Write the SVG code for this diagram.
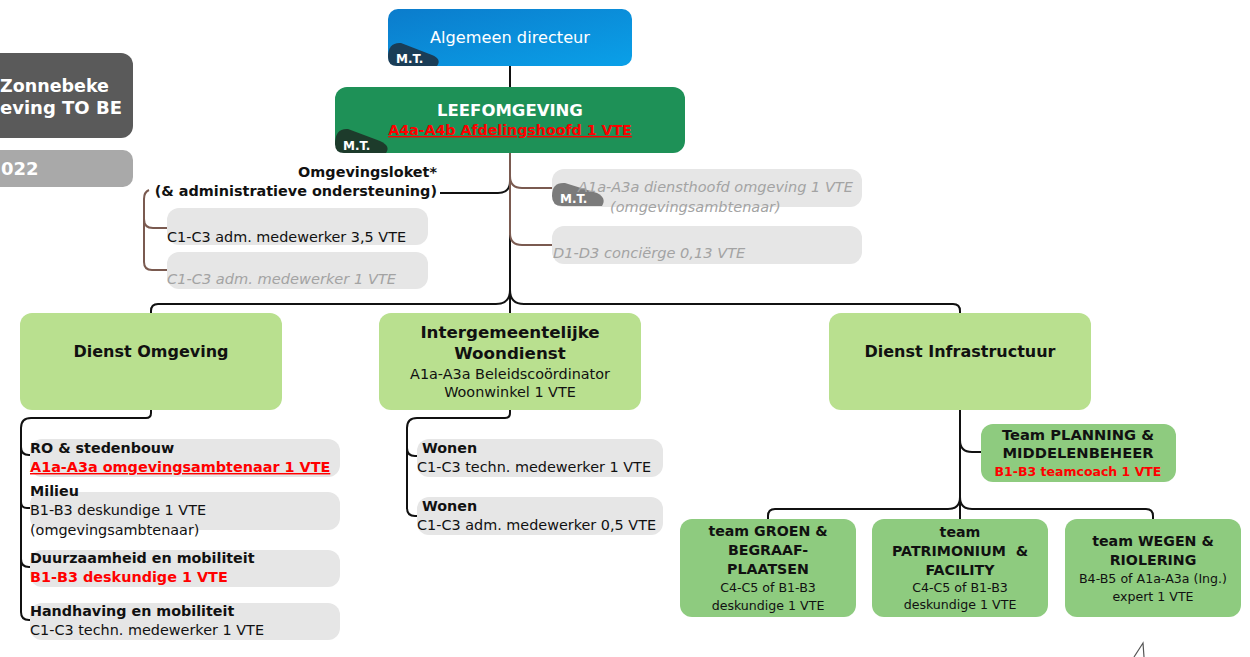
<svg xmlns="http://www.w3.org/2000/svg" width="1250" height="657" viewBox="0 0 1250 657">
<defs>
<linearGradient id="blue" x1="0" y1="0" x2="1" y2="1">
<stop offset="0" stop-color="#0b7ccc"/>
<stop offset="1" stop-color="#0aa0e8"/>
</linearGradient>
<style>
text{font-family:"DejaVu Sans","Liberation Sans",sans-serif;}
.b{font-weight:bold;}
.w{fill:#ffffff;}
.k{fill:#111111;}
.red{fill:#ff0000;font-weight:bold;}
.u{text-decoration:underline;}
.gi{fill:#a3a3a3;font-style:italic;}
.c{text-anchor:middle;}
.lg{fill:#b9e08f;}
.mg{fill:#8ecb7f;}
.gb{fill:#e6e6e6;}
.blk{fill:none;stroke:#111111;stroke-width:2;}
.brn{fill:none;stroke:#7a5a50;stroke-width:2;}
.mt{font-size:12px;font-weight:bold;fill:#ffffff;}
.t14{font-size:14.4px;}
.tb{font-size:14.3px;font-weight:bold;}
.tt{font-size:14.2px;font-weight:bold;}
.ts{font-size:12.6px;}
</style>
</defs>
<rect width="1250" height="657" fill="#ffffff"/>

<g id="title">
<rect x="-20" y="53" width="153" height="85" rx="12" fill="#5a5a5a"/>
<text x="0" y="92" class="b w" font-size="17.5">Zonnebeke</text>
<text x="0" y="114" class="b w" font-size="18">eving TO BE</text>
<rect x="-20" y="150" width="153" height="37" rx="10" fill="#a9a9a9"/>
<text x="1" y="175" class="b w" font-size="18">022</text>
</g>

<g id="connectors">
<path class="blk" d="M510,66 V87"/>
<path class="blk" d="M510,153 V313"/>
<path class="blk" d="M440,193 H498 Q510,193 510,181"/>
<path class="brn" d="M510,153 V235"/>
<path class="brn" d="M510,176 Q510,188 522,188 H552"/>
<path class="brn" d="M510,233 Q510,245 522,245 H552"/>
<path class="brn" d="M149,190 Q144,192 144,199 V262 Q144,270 152,270 H167"/>
<path class="brn" d="M144,219 Q144,228 153,228 H167"/>
<path class="blk" d="M151,313 V311 Q151,304 158,304 H496 Q510,304 510,290"/>
<path class="blk" d="M510,290 Q510,304 524,304 H953 Q960,304 960,311 V313"/>
<path class="blk" d="M151,410 V413 Q151,418 146,418 H31 Q21,418 21,428 V612 Q21,620 29,620 H31"/>
<path class="blk" d="M21,447 Q21,455 29,455 H31"/>
<path class="blk" d="M21,502 Q21,508 27,508 H31"/>
<path class="blk" d="M21,559 Q21,567 29,567 H31"/>
<path class="blk" d="M510,410 V413 Q510,418 505,418 H417 Q407,418 407,428 V508 Q407,516 415,516 H418"/>
<path class="blk" d="M407,448 Q407,456 415,456 H418"/>
<path class="blk" d="M960,410 V519"/>
<path class="blk" d="M960,440 Q960,452 972,452 H981"/>
<path class="blk" d="M960,497 Q960,509 948,509 H775 Q768,509 768,516 V519"/>
<path class="blk" d="M960,497 Q960,509 972,509 H1146 Q1153,509 1153,516 V519"/>
</g>

<g id="n-directeur">
<rect x="388" y="9" width="244" height="57" rx="10" fill="url(#blue)"/>
<path d="M388,57 Q388,42 401,43 L432,55 Q442,59 437,66 L397,66 Q388,66 388,57 Z" fill="#1a3d57"/>
<text x="510" y="43" class="c w" font-size="16.2">Algemeen directeur</text>
<text x="396" y="63" class="mt">M.T.</text>
</g>

<g id="n-leefomgeving">
<rect x="335" y="87" width="350" height="66" rx="12" fill="#1e9157"/>
<path d="M335,144 Q335,128 348,129 L380,141 Q391,146 386,153 L344,153 Q335,153 335,144 Z" fill="#1d3b2b"/>
<text x="510" y="116" class="c b w" font-size="16.5">LEEFOMGEVING</text>
<text x="510" y="135" class="c red u" font-size="14.2">A4a-A4b Afdelingshoofd 1 VTE</text>
<text x="343" y="150" class="mt">M.T.</text>
</g>

<g id="n-omgevingsloket">
<text x="437" y="177" class="k" font-size="14.4" font-weight="bold" text-anchor="end">Omgevingsloket*</text>
<text x="437" y="196" class="k" font-size="14.4" font-weight="bold" text-anchor="end">(&amp; administratieve ondersteuning)</text>
</g>

<g id="n-adm1">
<rect x="167" y="208" width="261" height="37" rx="12" class="gb"/>
<text x="167" y="242" class="k t14">C1-C3 adm. medewerker 3,5 VTE</text>
</g>
<g id="n-adm2">
<rect x="167" y="252" width="261" height="37" rx="12" class="gb"/>
<text x="167" y="284" class="gi" font-size="14.6">C1-C3 adm. medewerker 1 VTE</text>
</g>

<g id="n-diensthoofd">
<rect x="552" y="169" width="310" height="38" rx="12" class="gb"/>
<path d="M552,196 Q552,182 565,183 L597,193 Q607,198 602,206 L562,206 Q552,206 552,196 Z" fill="#7b7b7b"/>
<text x="560" y="203" class="mt">M.T.</text>
<text x="578" y="192" class="gi" font-size="14.5">A1a-A3a diensthoofd omgeving 1 VTE</text>
<text x="610" y="212" class="gi" font-size="14.5">(omgevingsambtenaar)</text>
</g>
<g id="n-concierge">
<rect x="552" y="226" width="310" height="38" rx="12" class="gb"/>
<text x="553" y="258" class="gi" font-size="14.6">D1-D3 conciërge 0,13 VTE</text>
</g>

<g id="n-dienst-omgeving">
<rect x="20" y="313" width="262" height="97" rx="12" class="lg"/>
<text x="151" y="357" class="c b k" font-size="16">Dienst Omgeving</text>
</g>
<g id="n-woondienst">
<rect x="379" y="313" width="262" height="97" rx="12" class="lg"/>
<text x="510" y="338" class="c b k" font-size="16.7">Intergemeentelijke</text>
<text x="510" y="359" class="c b k" font-size="16.7">Woondienst</text>
<text x="510" y="379" class="c k t14">A1a-A3a Beleidscoördinator</text>
<text x="510" y="397" class="c k t14">Woonwinkel 1 VTE</text>
</g>
<g id="n-infrastructuur">
<rect x="829" y="313" width="262" height="97" rx="12" class="lg"/>
<text x="960" y="357" class="c b k" font-size="16">Dienst Infrastructuur</text>
</g>

<g id="n-ro">
<rect x="30" y="439" width="310" height="38" rx="12" class="gb"/>
<text x="30" y="453" class="k tb">RO &amp; stedenbouw</text>
<text x="30" y="472" class="red u" font-size="14.4">A1a-A3a omgevingsambtenaar 1 VTE</text>
</g>
<g id="n-milieu">
<rect x="30" y="492" width="310" height="38" rx="12" class="gb"/>
<text x="30" y="496" class="k tb">Milieu</text>
<text x="30" y="515" class="k t14">B1-B3 deskundige 1 VTE</text>
<text x="30" y="535" class="k t14">(omgevingsambtenaar)</text>
</g>
<g id="n-duurzaamheid">
<rect x="30" y="550" width="310" height="37" rx="12" class="gb"/>
<text x="30" y="563" class="k tb">Duurzaamheid en mobiliteit</text>
<text x="30" y="582" class="red" font-size="14.4">B1-B3 deskundige 1 VTE</text>
</g>
<g id="n-handhaving">
<rect x="30" y="603" width="310" height="37" rx="12" class="gb"/>
<text x="30" y="616" class="k tb">Handhaving en mobiliteit</text>
<text x="30" y="635" class="k t14">C1-C3 techn. medewerker 1 VTE</text>
</g>

<g id="n-wonen1">
<rect x="417" y="439" width="246" height="38" rx="12" class="gb"/>
<text x="422" y="453" class="k tb">Wonen</text>
<text x="417" y="472" class="k t14">C1-C3 techn. medewerker 1 VTE</text>
</g>
<g id="n-wonen2">
<rect x="417" y="497" width="246" height="38" rx="12" class="gb"/>
<text x="422" y="511" class="k tb">Wonen</text>
<text x="417" y="530" class="k t14">C1-C3 adm. medewerker 0,5 VTE</text>
</g>

<g id="n-planning">
<rect x="981" y="424" width="195" height="58" rx="12" class="mg"/>
<text x="1078" y="440" class="c k" font-size="14.7" font-weight="bold">Team PLANNING &amp;</text>
<text x="1078" y="458" class="c k" font-size="14.7" font-weight="bold">MIDDELENBEHEER</text>
<text x="1078" y="476" class="c red" font-size="12.5">B1-B3 teamcoach 1 VTE</text>
</g>
<g id="n-groen">
<rect x="680" y="519" width="176" height="98" rx="12" class="mg"/>
<text x="768" y="536" class="c k tt">team GROEN &amp;</text>
<text x="768" y="555" class="c k tt">BEGRAAF-</text>
<text x="768" y="574" class="c k tt">PLAATSEN</text>
<text x="768" y="592" class="c k ts">C4-C5 of B1-B3</text>
<text x="768" y="610" class="c k ts">deskundige 1 VTE</text>
</g>
<g id="n-patrimonium">
<rect x="872" y="519" width="176" height="98" rx="12" class="mg"/>
<text x="960" y="537" class="c k tt">team</text>
<text x="960" y="556" class="c k tt" xml:space="preserve">PATRIMONIUM  &amp;</text>
<text x="960" y="575" class="c k tt">FACILITY</text>
<text x="960" y="592" class="c k ts">C4-C5 of B1-B3</text>
<text x="960" y="609" class="c k ts">deskundige 1 VTE</text>
</g>
<g id="n-wegen">
<rect x="1065" y="519" width="176" height="98" rx="12" class="mg"/>
<text x="1153" y="546" class="c k tt">team WEGEN &amp;</text>
<text x="1153" y="565" class="c k tt">RIOLERING</text>
<text x="1153" y="583" class="c k ts">B4-B5 of A1a-A3a (Ing.)</text>
<text x="1153" y="601" class="c k ts">expert 1 VTE</text>
</g>

<path d="M1134,657 L1143,643 L1144,657" fill="none" stroke="#555555" stroke-width="1.2"/>
</svg>
